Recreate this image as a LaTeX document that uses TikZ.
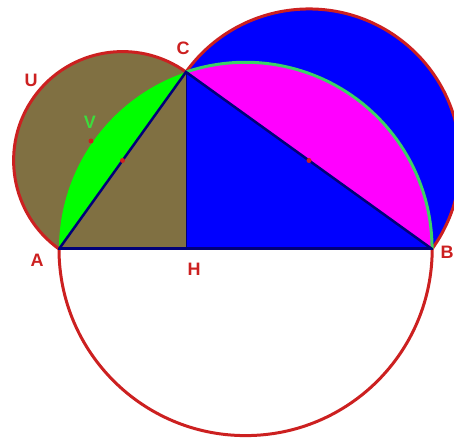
\documentclass[tikz,border=0pt]{standalone}
\usepackage{fontspec}
\setmainfont{Liberation Sans}
\definecolor{olive2}{RGB}{128,112,66}
\definecolor{redl}{RGB}{204,32,32}
\definecolor{navyl}{RGB}{0,0,120}
\definecolor{greenl}{RGB}{0,255,0}
\definecolor{greenedge}{RGB}{60,210,100}
\definecolor{greentext}{RGB}{60,220,60}
\definecolor{bluel}{RGB}{0,0,255}
\definecolor{magl}{RGB}{255,0,255}
\begin{document}
\begin{tikzpicture}[x=1pt,y=1pt,
  outline/.style={draw=redl,line width=3pt},
  side/.style={draw=navyl,line width=2.5pt,line cap=round},
  lbl/.style={font=\fontsize{18}{18}\selectfont\bfseries,text=redl,inner sep=0pt},
  dotp/.style={circle,fill=redl,inner sep=0pt,minimum size=5pt}]
\useasboundingbox (0,0) rectangle (454,438);
\clip (0,0) rectangle (454,438);
\coordinate (A) at (59,189);
\coordinate (B) at (432,189);
\coordinate (C) at (186,366);
\coordinate (H) at (186,189);
\coordinate (O) at (245.5,189);
% semicircle on AC
\fill[olive2] (C) arc[start angle=54.35,end angle=234.35,radius=108.92] -- cycle;
\draw[outline] (C) arc[start angle=54.35,end angle=234.35,radius=108.92];
% semicircle on BC
\fill[bluel] (B) arc[start angle=-35.74,end angle=144.26,radius=151.53] -- cycle;
\draw[outline] (B) arc[start angle=-35.74,end angle=144.26,radius=151.53];
% green segment
\fill[greenl] (A) arc[start angle=180,end angle=108.58,radius=186.6] -- cycle;
% magenta segment
\fill[magl] (C) arc[start angle=108.58,end angle=0,radius=186.6] -- cycle;
\draw[draw=greenedge,line width=3pt] (C) arc[start angle=108.58,end angle=0,radius=186.6];
% triangles
\fill[olive2] (A) -- (H) -- (C) -- cycle;
\fill[bluel] (H) -- (B) -- (C) -- cycle;
% lower half of big circle
\draw[outline] (A) arc[start angle=180,end angle=360,radius=186.6];
% sides
\draw[side] (A) -- (C) -- (B);
\draw[draw=navyl,line width=3pt] (A) -- (B);
\draw[draw=navyl,line width=1pt] (H) -- (C);
% points
\node[dotp] (m1) at (122.5,277.5) {};
\node[dotp] (m2) at (309,277.5) {};
\node[dotp] (v) at (91,297) {};
% labels
\node[lbl] (lU) at (31,358) {U};
\node[lbl] (lC) at (183,389.5) {C};
\node[lbl] (lA) at (37,178) {A};
\node[lbl] (lH) at (194,169) {H};
\node[lbl] (lB) at (447,186) {B};
\node[lbl,text=greentext] (lV) at (90,316) {V};
\end{tikzpicture}
\end{document}
